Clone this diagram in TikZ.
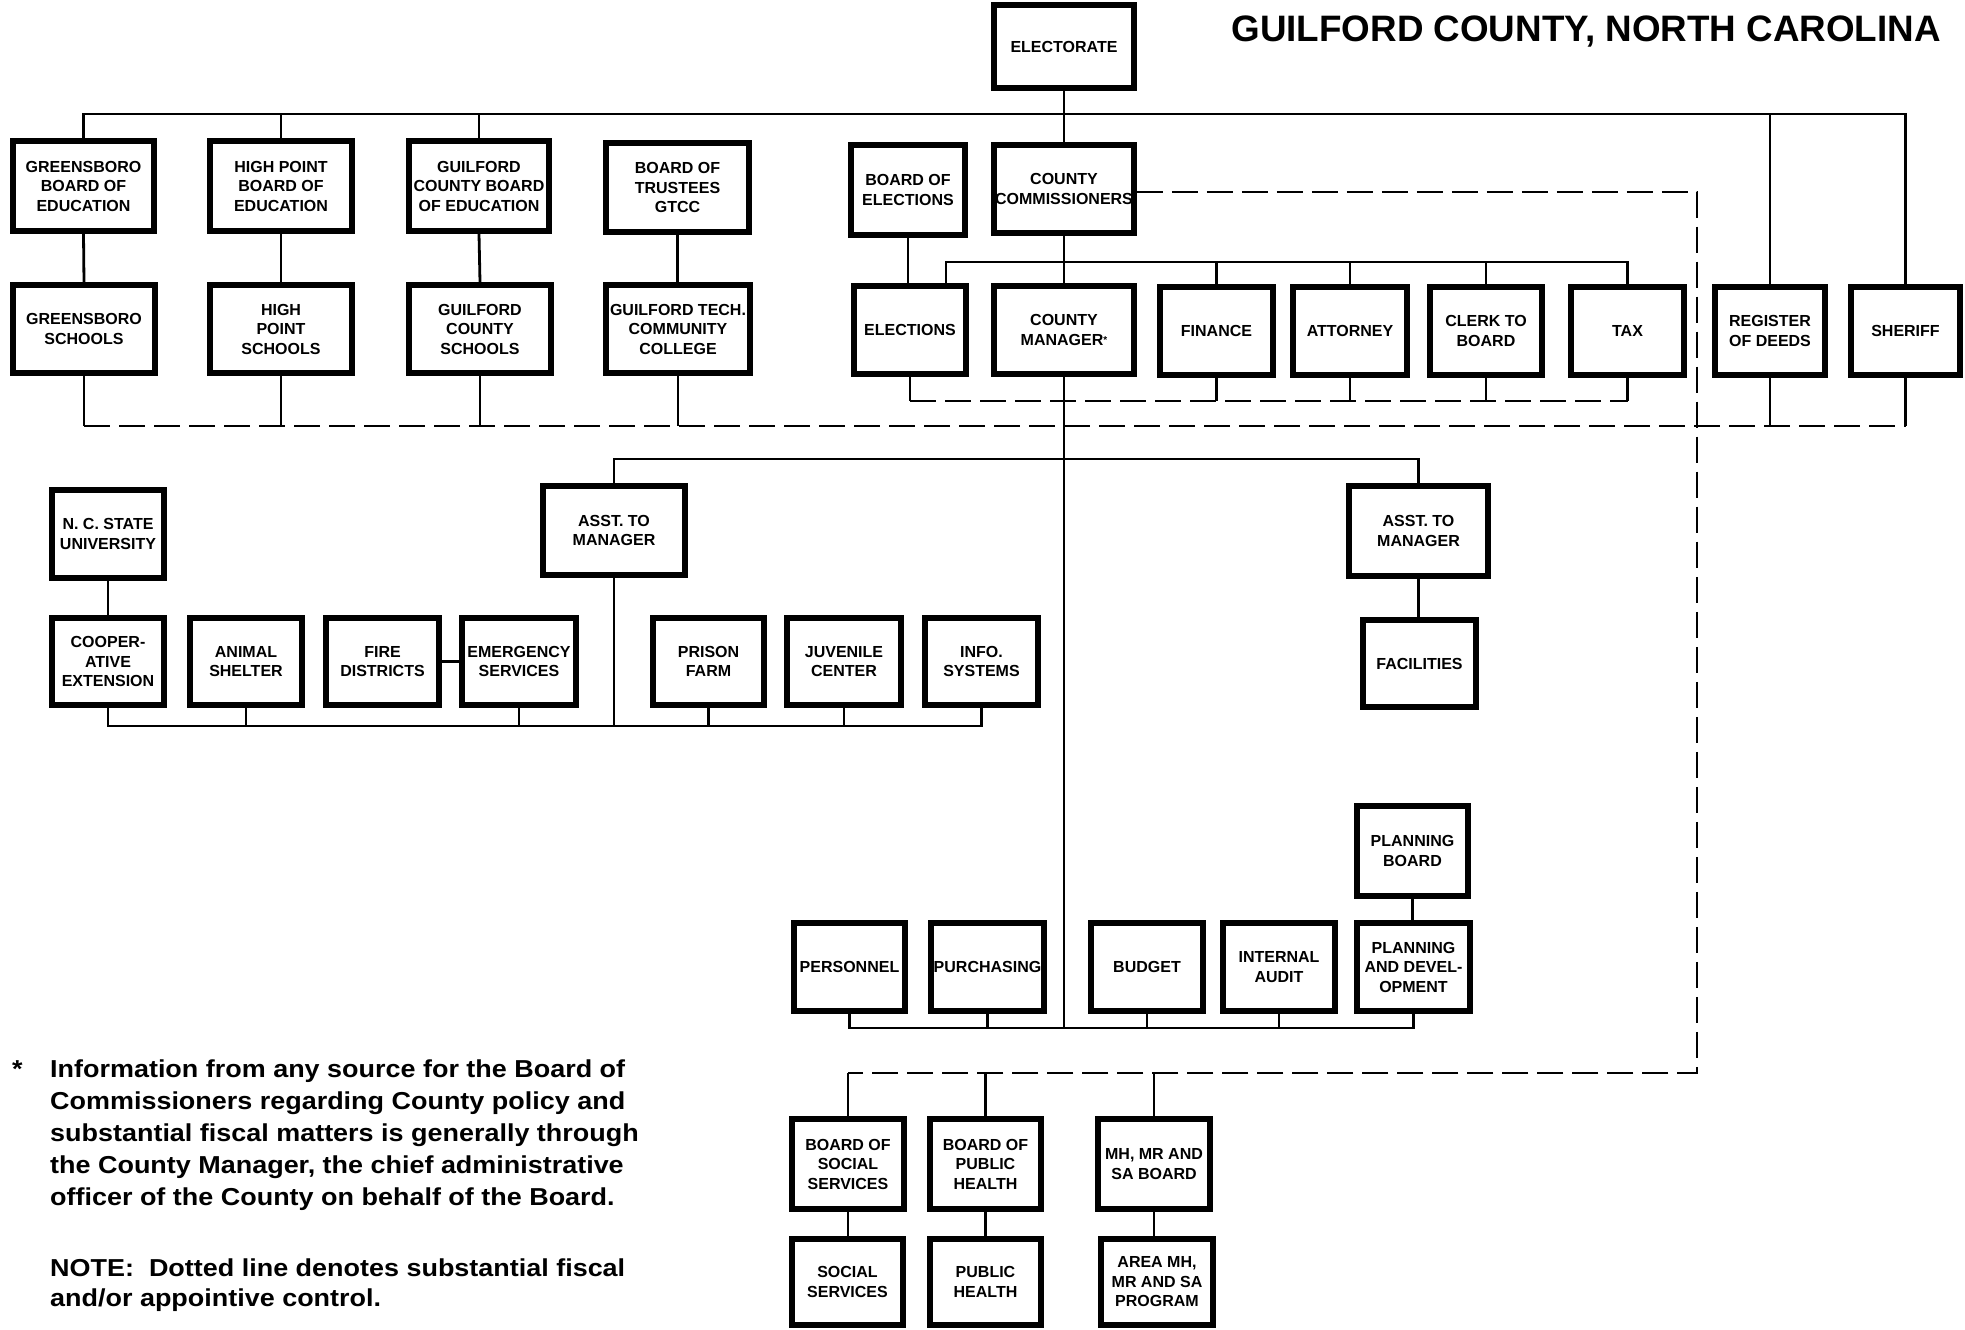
\documentclass[tikz,border=0pt]{standalone}
\usepackage{fontspec}
\setmainfont{Liberation Sans}
\newfontfamily\notefam[FakeStretch=1.1]{Liberation Sans}
\usetikzlibrary{calc}
\tikzset{
  box/.style={draw, line width=6bp, align=center, inner sep=0pt,
    font=\bfseries\fontsize{16bp}{19.5bp}\selectfont},
  conn/.style={line width=2.8bp},
  dsh/.style={line width=2.8bp, dash pattern=on 26bp off 9bp},
  notetext/.style={anchor=base west, inner sep=0pt,
    font=\notefam\bfseries\fontsize{24.5bp}{32bp}\selectfont},
  titletext/.style={anchor=base east, inner sep=0pt,
    font=\bfseries\fontsize{36.8bp}{40bp}\selectfont},
}
\begin{document}
\begin{tikzpicture}[x=1bp,y=-1bp]
\useasboundingbox (0,0) rectangle (1965,1330);

% title
\node[titletext] (title) at (1941,42) {GUILFORD COUNTY, NORTH CAROLINA};

% top
\node[box, minimum width=140, minimum height=83] (elec) at (1064,46.5) {ELECTORATE};

% row 1
\node[box, minimum width=141, minimum height=90] (gbe) at (83.5,186) {GREENSBORO\\BOARD OF\\EDUCATION};
\node[box, minimum width=142, minimum height=90] (hpb) at (281,186) {HIGH POINT\\BOARD OF\\EDUCATION};
\node[box, minimum width=140, minimum height=90] (gcb) at (479,186) {GUILFORD\\COUNTY BOARD\\OF EDUCATION};
\node[box, minimum width=143, minimum height=89] (gtb) at (677.5,187.5) {BOARD OF\\TRUSTEES\\GTCC};
\node[box, minimum width=114, minimum height=90] (boe) at (908,190) {BOARD OF\\ELECTIONS};
\node[box, minimum width=140, minimum height=88] (com) at (1064,189) {COUNTY\\COMMISSIONERS};

% row 2
\node[box, minimum width=142, minimum height=88] (gs) at (84,329) {GREENSBORO\\SCHOOLS};
\node[box, minimum width=142, minimum height=88] (hps) at (281,329) {HIGH\\POINT\\SCHOOLS};
\node[box, minimum width=142, minimum height=88] (gcs) at (480,329) {GUILFORD\\COUNTY\\SCHOOLS};
\node[box, minimum width=144, minimum height=88] (gtc) at (678,329) {GUILFORD TECH.\\COMMUNITY\\COLLEGE};
\node[box, minimum width=112, minimum height=88] (ele) at (910,330) {ELECTIONS};
\node[box, minimum width=140, minimum height=88] (mgr) at (1064,330) {COUNTY\\MANAGER{\fontsize{10bp}{10bp}\selectfont\raisebox{2bp}{*}}};
\node[box, minimum width=113, minimum height=88] (fin) at (1216.5,331) {FINANCE};
\node[box, minimum width=114, minimum height=88] (att) at (1350,331) {ATTORNEY};
\node[box, minimum width=112, minimum height=88] (clk) at (1486,331) {CLERK TO\\BOARD};
\node[box, minimum width=113, minimum height=88] (tax) at (1627.5,331) {TAX};
\node[box, minimum width=110, minimum height=88] (reg) at (1770,331) {REGISTER\\OF DEEDS};
\node[box, minimum width=109, minimum height=88] (she) at (1905.5,331) {SHERIFF};

% middle
\node[box, minimum width=112, minimum height=88] (ncs) at (108,534) {N. C. STATE\\UNIVERSITY};
\node[box, minimum width=142, minimum height=89] (asl) at (614,530.5) {ASST. TO\\MANAGER};
\node[box, minimum width=139, minimum height=90] (asr) at (1418.5,531) {ASST. TO\\MANAGER};

\node[box, minimum width=112, minimum height=87] (coop) at (108,661.5) {COOPER-\\ATIVE\\EXTENSION};
\node[box, minimum width=112, minimum height=87] (anim) at (246,661.5) {ANIMAL\\SHELTER};
\node[box, minimum width=113, minimum height=87] (fire) at (382.5,661.5) {FIRE\\DISTRICTS};
\node[box, minimum width=114, minimum height=87] (emer) at (519,661.5) {EMERGENCY\\SERVICES};
\node[box, minimum width=111, minimum height=87] (pris) at (708.5,661.5) {PRISON\\FARM};
\node[box, minimum width=114, minimum height=87] (juv) at (844,661.5) {JUVENILE\\CENTER};
\node[box, minimum width=113, minimum height=87] (info) at (981.5,661.5) {INFO.\\SYSTEMS};
\node[box, minimum width=113, minimum height=87] (fac) at (1419.5,663.5) {FACILITIES};

% lower
\node[box, minimum width=111, minimum height=90] (plb) at (1412.5,851) {PLANNING\\BOARD};
\node[box, minimum width=111, minimum height=88] (pers) at (849.5,967) {PERSONNEL};
\node[box, minimum width=113, minimum height=88] (purch) at (987.5,967) {PURCHASING};
\node[box, minimum width=112, minimum height=88] (budg) at (1147,967) {BUDGET};
\node[box, minimum width=112, minimum height=88] (aud) at (1279,967) {INTERNAL\\AUDIT};
\node[box, minimum width=113, minimum height=88] (pd) at (1413.5,967) {PLANNING\\AND DEVEL-\\OPMENT};

% bottom
\node[box, minimum width=112, minimum height=90] (bss) at (848,1164) {BOARD OF\\SOCIAL\\SERVICES};
\node[box, minimum width=111, minimum height=90] (bph) at (985.5,1164) {BOARD OF\\PUBLIC\\HEALTH};
\node[box, minimum width=112, minimum height=90] (mhb) at (1154,1164) {MH, MR AND\\SA BOARD};
\node[box, minimum width=111, minimum height=86] (ss) at (847.5,1282) {SOCIAL\\SERVICES};
\node[box, minimum width=111, minimum height=86] (ph) at (985.5,1282) {PUBLIC\\HEALTH};
\node[box, minimum width=112, minimum height=86] (amh) at (1157,1282) {AREA MH,\\MR AND SA\\PROGRAM};

% bus heights
\coordinate (yTop) at (0,114);
\coordinate (yCom) at (0,262);
\coordinate (yDashA) at (0,401);
\coordinate (yDashB) at (0,426);
\coordinate (yAsst) at (0,459);
\coordinate (yMid) at (0,726);
\coordinate (yBot) at (0,1028);
\coordinate (cR) at (1697,1073);
\coordinate (eleB) at ($(ele.north)+(36,0)$);
\coordinate (comE) at ($(com.east)+(0,3)$);

% top bus
\draw[conn] (gbe.north) -- (gbe.north |- yTop) -- (she.north |- yTop) -- (she.north);
\draw[conn] (hpb.north) -- (hpb.north |- yTop);
\draw[conn] (gcb.north) -- (gcb.north |- yTop);
\draw[conn] (reg.north) -- (reg.north |- yTop);
\draw[conn] (elec.south) -- (com.north);

% row1 to row2
\draw[conn] (gbe.south) -- (gs.north);
\draw[conn] (hpb.south) -- (hps.north);
\draw[conn] (gcb.south) -- (gcs.north);
\draw[conn] (gtb.south) -- (gtb.south |- gtc.north);
\draw[conn] (boe.south) -- (boe.south |- ele.north);
\draw[conn] (com.south) -- (mgr.north);

% commissioners bus
\draw[conn] (eleB) -- (eleB |- yCom) -- (tax.north |- yCom) -- (tax.north);
\draw[conn] (fin.north) -- (fin.north |- yCom);
\draw[conn] (att.north) -- (att.north |- yCom);
\draw[conn] (clk.north) -- (clk.north |- yCom);

% lower dashed (departments)
\draw[conn] (ele.south) -- (ele.south |- yDashA);
\draw[conn] (fin.south) -- (fin.south |- yDashA);
\draw[conn] (att.south) -- (att.south |- yDashA);
\draw[conn] (clk.south) -- (clk.south |- yDashA);
\draw[conn] (tax.south) -- (tax.south |- yDashA);
\draw[dsh] (ele.south |- yDashA) -- (tax.south |- yDashA);

% big dashed
\draw[conn] (gs.south) -- (gs.south |- yDashB);
\draw[conn] (hps.south) -- (hps.south |- yDashB);
\draw[conn] (gcs.south) -- (gcs.south |- yDashB);
\draw[conn] (gtc.south) -- (gtc.south |- yDashB);
\draw[conn] (reg.south) -- (reg.south |- yDashB);
\draw[conn] (she.south) -- (she.south |- yDashB);
\draw[dsh] (gs.south |- yDashB) -- (she.south |- yDashB);

% commissioners dashed control line
\draw[dsh] (comE) -- (comE -| cR) -- (cR) -- (bss.north |- cR);
\draw[conn] (bss.north) -- (bss.north |- cR);
\draw[conn] (bph.north) -- (bph.north |- cR);
\draw[conn] (mhb.north) -- (mhb.north |- cR);

% manager
\draw[conn] (mgr.south) -- (mgr.south |- yBot);
\draw[conn] (asl.north) -- (asl.north |- yAsst) -- (asr.north |- yAsst) -- (asr.north);

% middle bus
\draw[conn] (coop.south) -- (coop.south |- yMid) -- (info.south |- yMid) -- (info.south);
\draw[conn] (anim.south) -- (anim.south |- yMid);
\draw[conn] (emer.south) -- (emer.south |- yMid);
\draw[conn] (pris.south) -- (pris.south |- yMid);
\draw[conn] (juv.south) -- (juv.south |- yMid);
\draw[conn] (asl.south) -- (asl.south |- yMid);
\draw[conn] (fire.east) -- (emer.west);
\draw[conn] (ncs.south) -- (coop.north);
\draw[conn] (asr.south) -- (asr.south |- fac.north);
\draw[conn] (plb.south) -- (plb.south |- pd.north);

% bottom bus
\draw[conn] (pers.south) -- (pers.south |- yBot) -- (pd.south |- yBot) -- (pd.south);
\draw[conn] (purch.south) -- (purch.south |- yBot);
\draw[conn] (budg.south) -- (budg.south |- yBot);
\draw[conn] (aud.south) -- (aud.south |- yBot);

% boards to services
\draw[conn] (bss.south) -- (bss.south |- ss.north);
\draw[conn] (bph.south) -- (bph.south |- ph.north);
\draw[conn] (mhb.south) -- (mhb.south |- amh.north);

% footnotes
\node[notetext] (ast) at (12,1077) {*};
\node[notetext] (n1) at (50,1077) {Information from any source for the Board of};
\node[notetext] (n2) at (50,1109) {Commissioners regarding County policy and};
\node[notetext] (n3) at (50,1141) {substantial fiscal matters is generally through};
\node[notetext] (n4) at (50,1173) {the County Manager, the chief administrative};
\node[notetext] (n5) at (50,1205) {officer of the County on behalf of the Board.};
\node[notetext] (n6) at (50,1276) {NOTE:\ \ Dotted line denotes substantial fiscal};
\node[notetext] (n7) at (50,1306) {and/or appointive control.};
\end{tikzpicture}
\end{document}
